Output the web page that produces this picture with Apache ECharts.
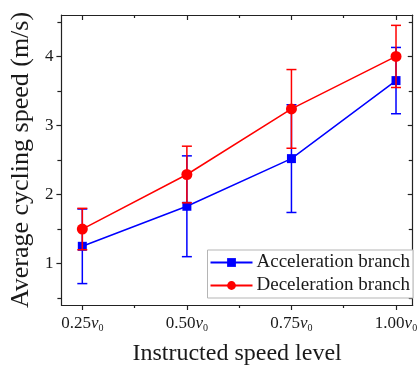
<!DOCTYPE html>
<html>
<head>
<meta charset="utf-8">
<script src="https://cdn.jsdelivr.net/npm/echarts@6/dist/echarts.min.js"></script>
<style>
  html, body { margin: 0; padding: 0; background: #fff; }
  #chart { width: 420px; height: 371px; }
</style>
</head>
<body>
<div id="chart"></div>
<script>
// Instructed speed levels (fraction of v0)
const speedLevels = [0.25, 0.5, 0.75, 1.0];
const xMajorTicks = [0.25, 0.5, 0.75, 1.0];
const xMinorTicks = [0.375, 0.625, 0.875];
const yMajorTicks = [1, 2, 3, 4];
const yMinorTicks = [0.5, 1.5, 2.5, 3.5, 4.5];

// Mean cycling speed (m/s) and standard deviation
const accelMean = [1.25, 1.83, 2.52, 3.65];
const accelErr  = [0.54, 0.73, 0.78, 0.48];
const decelMean = [1.50, 2.29, 3.24, 4.00];
const decelErr  = [0.30, 0.41, 0.57, 0.45];

const accelName = 'Acceleration branch';
const decelName = 'Deceleration branch';
const xTitle = 'Instructed speed level';
const yTitle = 'Average cycling speed (m/s)';

const FONT = '"Liberation Serif", "Times New Roman", serif';
const AXIS = '#222';
const TEXT = '#1a1a1a';
const BLUE = '#0000ff';
const RED = '#ff0000';

function errorData(mean, err) {
  return speedLevels.map((x, i) => [x, mean[i] - err[i], mean[i] + err[i]]);
}

// Vertical error bar with caps at both ends
function errorBars(color) {
  return function (params, api) {
    const x = api.value(0);
    const lo = api.coord([x, api.value(1)]);
    const hi = api.coord([x, api.value(2)]);
    const hw = 5;
    const style = { stroke: color, lineWidth: 1.5 };
    return {
      type: 'group',
      children: [
        { type: 'line', shape: { x1: lo[0], y1: lo[1], x2: hi[0], y2: hi[1] }, style },
        { type: 'line', shape: { x1: lo[0] - hw, y1: lo[1], x2: lo[0] + hw, y2: lo[1] }, style },
        { type: 'line', shape: { x1: hi[0] - hw, y1: hi[1], x2: hi[0] + hw, y2: hi[1] }, style }
      ]
    };
  };
}

const xRange = { min: 0.2, max: 1.04 };
const yRange = { min: 0.4, max: 4.6 };

function tickAxis(base, position, values, len, inside, showLine) {
  return Object.assign({
    type: 'value',
    position: position,
    axisLine: { show: showLine, onZero: false, lineStyle: { color: AXIS, width: 1.2 } },
    axisTick: { show: true, inside: inside, length: len, customValues: values, lineStyle: { color: AXIS, width: 1.2 } },
    axisLabel: { show: false },
    splitLine: { show: false }
  }, base);
}

const chart = echarts.init(document.getElementById('chart'), null, { renderer: 'canvas' });

const option = {
  animation: false,
  backgroundColor: '#fff',
  grid: { left: 58, right: 5, top: 15, bottom: 66, containLabel: false },
  legend: {
    right: 7,
    top: 250,
    orient: 'vertical',
    itemWidth: 42,
    itemHeight: 11,
    itemGap: 4,
    padding: [3, 3, 3, 2],
    borderColor: '#b5b5b5',
    borderWidth: 1,
    backgroundColor: '#fff',
    textStyle: { fontFamily: FONT, fontSize: 19, color: TEXT, padding: [0, 0, 0, -1] },
    data: [accelName, decelName]
  },
  xAxis: [
    Object.assign(tickAxis(xRange, 'bottom', xMajorTicks, 5, false, true), {
      name: xTitle,
      nameLocation: 'middle',
      nameGap: 37,
      nameTextStyle: { fontFamily: FONT, fontSize: 24, color: TEXT },
      axisLabel: {
        show: true,
        customValues: xMajorTicks,
        margin: 9,
        formatter: v => '{n|' + v.toFixed(2) + '}{v|v}{s|0}',
        rich: {
          n: { fontFamily: FONT, fontSize: 17, color: TEXT },
          v: { fontFamily: FONT, fontSize: 17, fontStyle: 'italic', color: TEXT },
          s: { fontFamily: FONT, fontSize: 10, color: TEXT, verticalAlign: 'bottom', padding: [9, 0, 0, 0] }
        }
      }
    }),
    tickAxis(xRange, 'bottom', xMinorTicks, 3, false, false),
    tickAxis(xRange, 'top', xMajorTicks, 5, true, true),
    tickAxis(xRange, 'top', xMinorTicks, 3, true, false)
  ],
  yAxis: [
    Object.assign(tickAxis(yRange, 'left', yMajorTicks, 5, false, true), {
      name: yTitle,
      nameLocation: 'middle',
      nameGap: 24,
      nameTextStyle: { fontFamily: FONT, fontSize: 26, color: TEXT },
      axisLabel: {
        show: true,
        customValues: yMajorTicks,
        margin: 8,
        fontFamily: FONT,
        fontSize: 17,
        color: TEXT
      }
    }),
    tickAxis(yRange, 'left', yMinorTicks, 4, false, false),
    tickAxis(yRange, 'right', yMajorTicks, 5, true, true),
    tickAxis(yRange, 'right', yMinorTicks, 4, true, false)
  ],
  series: [
    {
      name: accelName,
      type: 'line',
      data: speedLevels.map((x, i) => [x, accelMean[i]]),
      symbol: 'rect',
      symbolSize: 9,
      lineStyle: { color: BLUE, width: 1.5 },
      itemStyle: { color: BLUE },
      z: 3
    },
    {
      name: decelName,
      type: 'line',
      data: speedLevels.map((x, i) => [x, decelMean[i]]),
      symbol: 'circle',
      symbolSize: 11,
      lineStyle: { color: RED, width: 1.5 },
      itemStyle: { color: RED },
      z: 5
    },
    {
      name: accelName,
      type: 'custom',
      renderItem: errorBars(BLUE),
      data: errorData(accelMean, accelErr),
      encode: { x: 0, y: [1, 2] },
      itemStyle: { color: BLUE },
      z: 2
    },
    {
      name: decelName,
      type: 'custom',
      renderItem: errorBars(RED),
      data: errorData(decelMean, decelErr),
      encode: { x: 0, y: [1, 2] },
      itemStyle: { color: RED },
      z: 4
    }
  ]
};

chart.setOption(option);
</script>
</body>
</html>
